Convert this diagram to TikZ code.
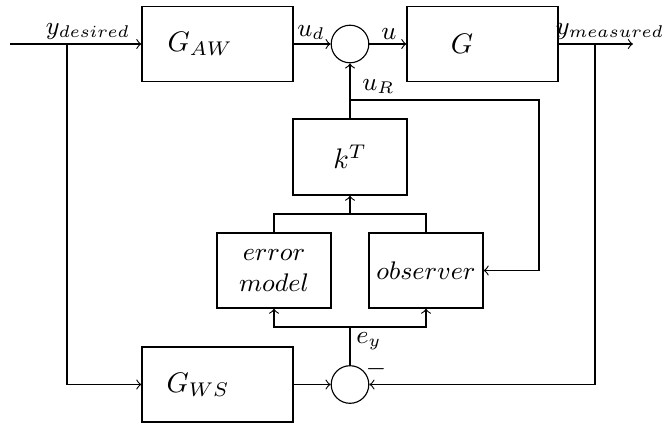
\documentclass[tikz,border=0pt]{standalone}
\usetikzlibrary{calc}
\newcommand\pxu{0.3534pt}
\begin{document}
\begin{tikzpicture}[x=0.3534pt,y=-0.3534pt,
  blk/.style={draw,rectangle,inner sep=0pt,font=\small,align=center},
  wideblk/.style={blk,minimum width={151*\pxu},minimum height={75*\pxu}},
  midblk/.style={blk,minimum width={114*\pxu},minimum height={75*\pxu}},
  sumc/.style={draw,circle,inner sep=0pt,minimum size={37.6*\pxu}},
  boxtxt/.style={inner sep=0pt,font=\normalsize},
  lbl/.style={inner sep=1pt,font=\fontsize{8.6pt}{10pt}\selectfont},
  >=to]
\useasboundingbox (0,0) rectangle (663,424);
% blocks
\node[wideblk] (GAW) at (217.5,44) {};
\node[boxtxt] (tGAW) at (200,44) {$G_{AW}$};
\node[sumc] (S1) at (350,44) {};
\node[wideblk] (G) at (482.5,44) {};
\node[boxtxt] (tG) at (462,44) {$G$};
\node[midblk,minimum height={76*\pxu},font=\normalsize] (kT) at (350,157) {$k^T$};
\node[midblk] (err) at (274,270.5) {$error$\\$model$};
\node[midblk] (obs) at (426,270.5) {$observer$};
\node[wideblk] (GWS) at (217.5,384.5) {};
\node[boxtxt] (tGWS) at (198,384.5) {$G_{WS}$};
\node[sumc] (S2) at (350,384.5) {};
% coordinates
\coordinate (in) at (10,44);
\coordinate (b1) at (67,44);
\coordinate (out) at (633,44);
\coordinate (b2) at (595,44);
\coordinate (j1) at (350,327);
\coordinate (j2) at (350,214);
\coordinate (r1) at (350,100);
\coordinate (r2) at (539,100);
% connectors
\draw[->] (in) -- (GAW.west);
\draw[->] (b1) |- (GWS.west);
\draw[->] (GAW.east) -- (S1.west);
\draw[->] (S1.east) -- (G.west);
\draw[->] (G.east) -- (out);
\draw[->] (b2) |- (S2.east);
\draw[->] (GWS.east) -- (S2.west);
\draw (S2.north) -- (j1);
\draw[->] (j1) -| (err.south);
\draw[->] (j1) -| (obs.south);
\draw (err.north) |- (j2) -| (obs.north);
\draw[->] (j2) -- (kT.south);
\draw[->] (kT.north) -- (S1.south);
\draw[->] (r1) -- (r2) |- (obs.east);
% labels
\node[lbl,anchor=south] (lyd) at (88,43) {$y_{desired}$};
\node[lbl,anchor=south] (lud) at (311,43) {$u_d$};
\node[lbl,anchor=south] (lu) at (389,43) {$u$};
\node[lbl,anchor=south] (lym) at (610,43) {$y_{measured}$};
\node[lbl,anchor=south west] (luR) at (359,97) {$u_R$};
\node[lbl,anchor=north west] (ley) at (353,329) {$e_y$};
\node[inner sep=0pt,font=\fontsize{8.6pt}{10pt}\selectfont] (lmin) at (376,369) {$-$};
\end{tikzpicture}
\end{document}
